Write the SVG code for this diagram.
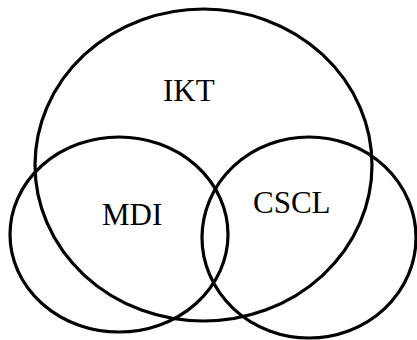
<svg xmlns="http://www.w3.org/2000/svg" width="417" height="340" viewBox="0 0 417 340">
<style>
.set{fill:none;stroke:#000;stroke-width:3.2}
.lbl{font-family:'Liberation Serif','Times New Roman',Tinos,'Noto Serif','DejaVu Serif',serif;font-size:31px;fill:#000}
</style>
<rect width="417" height="340" fill="#fff"/>
<g id="IKT"><ellipse class="set" cx="203.5" cy="165" rx="168.5" ry="156"/><text class="lbl" x="163" y="100.5">IKT</text></g>
<g id="MDI"><ellipse class="set" cx="119" cy="234.5" rx="109" ry="97.5"/><text class="lbl" x="102" y="225">MDI</text></g>
<g id="CSCL"><ellipse class="set" cx="309" cy="237.5" rx="107" ry="100.5"/><text class="lbl" x="253" y="212.5">CSCL</text></g>
<g id="connectors"/>
</svg>
